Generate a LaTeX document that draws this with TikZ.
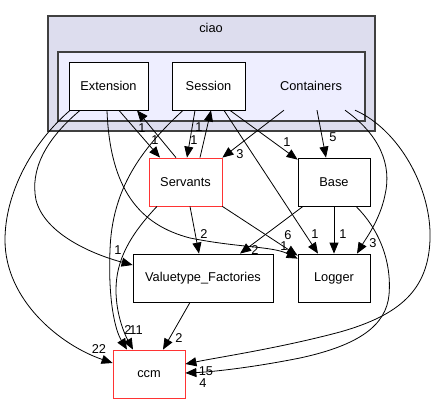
\documentclass[tikz,border=0pt]{standalone}
\usepackage{fontspec}
\setmainfont{Liberation Sans}
\usetikzlibrary{arrows.meta, calc}
\definecolor{ciaofill}{HTML}{DDDDEE}
\definecolor{contfill}{HTML}{EEEEFF}
\definecolor{framegray}{HTML}{404040}
\definecolor{dirred}{HTML}{FF3333}
\tikzset{
  dirbox/.style={draw=black, fill=white, line width=0.8pt, minimum height=48pt, inner sep=0pt, font=\fontsize{12.8}{15}\selectfont},
  redbox/.style={dirbox, draw=dirred},
  clusterbox/.style={draw=framegray, line width=1.2pt, inner sep=0pt},
  dep/.style={-{Triangle[length=11pt,width=9pt]}, line width=0.8pt},
  cnt/.style={inner sep=0pt, font=\fontsize{12.8}{15}\selectfont}
}
\begin{document}
\begin{tikzpicture}[x=1pt, y=-1pt]
    \useasboundingbox (0,0) rectangle (437,404);

    % clusters
    \node[clusterbox, fill=ciaofill, minimum width=327pt, minimum height=115pt] (ciao) at (211.5,73.5) {};
    \node[cnt] (ciaolbl) at (211,28) {ciao};
    \node[clusterbox, fill=contfill, minimum width=307pt, minimum height=69pt] (contframe) at (211.5,86.5) {};
    \node[cnt, minimum width=80pt, minimum height=48pt] (Containers) at (311,86) {Containers};

    % directories
    \node[dirbox, minimum width=79pt] (Extension) at (108.5,86) {Extension};
    \node[dirbox, minimum width=73pt] (Session) at (208.5,86) {Session};
    \node[redbox, minimum width=73pt] (Servants) at (185.5,182) {Servants};
    \node[dirbox, minimum width=72pt] (Base) at (334,182) {Base};
    \node[dirbox, minimum width=140pt] (VF) at (203,278) {Valuetype\_Factories};
    \node[dirbox, minimum width=72pt] (Logger) at (334,278) {Logger};
    \node[redbox, minimum width=72pt] (ccm) at (149,374) {ccm};

    % Extension
    \draw[dep] ([xshift=-38.5]Extension.south) .. controls (30,145) and (5,195) .. (5,240)
        .. controls (5,300) and (60,345) .. ([yshift=11]ccm.west);
    \draw[dep] ([xshift=-28.5]Extension.south) .. controls (45,140) and (30,170) .. (36,200)
        .. controls (45,235) and (95,255) .. ([yshift=13]VF.west);
    \draw[dep] ([xshift=-1.5]Extension.south) .. controls (110,190) and (140,225) .. (190,238)
        .. controls (240,248) and (272,246) .. ([yshift=-5]Logger.north west);
    \draw[dep] ([xshift=10.5]Extension.south) -- ([xshift=-25.5]Servants.north);

    % Session
    \draw[dep] ([xshift=-13.5]Session.south) -- ([xshift=1.5]Servants.north);
    \draw[dep] ([xshift=-25.5]Session.south) .. controls (140,150) and (112,190) .. (110,250)
        .. controls (108,300) and (115,330) .. ([xshift=-22]ccm.north);
    \draw[dep] ([xshift=15.5]Session.south) -- ([xshift=-16]Logger.north);
    \draw[dep] ([xshift=21.5]Session.south) -- ([yshift=-2]Base.north west);

    % Servants
    \draw[dep] ([xshift=-9.5]Servants.north) -- ([xshift=28.5]Extension.south);
    \draw[dep] ([xshift=14.5]Servants.north) -- ([xshift=2.5]Session.south);
    \draw[dep] ([xshift=-28.5]Servants.south) .. controls (130,235) and (116,260) .. (116,290)
        .. controls (116,315) and (125,335) .. ([xshift=-16]ccm.north);
    \draw[dep] ([xshift=4.5]Servants.south) -- ([xshift=-4]VF.north);
    \draw[dep] (Servants.south east) -- ([yshift=-2]Logger.north west);

    % Containers
    \draw[dep] ([xshift=-27]Containers.south) -- (Servants.north east);
    \draw[dep] ([xshift=6]Containers.south) -- ([xshift=-8]Base.north);
    \draw[dep] ([xshift=34]Containers.south) .. controls (380,135) and (392,165) .. (385,195)
        .. controls (380,220) and (365,240) .. ([xshift=23]Logger.north);
    \draw[dep] ([xshift=44]Containers.south) .. controls (400,130) and (432,190) .. (430,240)
        .. controls (428,290) and (400,315) .. (340,332)
        .. controls (280,348) and (220,357) .. ([yshift=10]ccm.east);

    % Base, Valuetype_Factories
    \draw[dep] (Base.south) -- (Logger.north);
    \draw[dep] ([xshift=-31]Base.south) -- ([xshift=37]VF.north);
    \draw[dep] ([xshift=22]Base.south) .. controls (378,228) and (392,260) .. (389,295)
        .. controls (386,325) and (360,345) .. (300,358)
        .. controls (250,368) and (210,372) .. ([yshift=1]ccm.east);
    \draw[dep] ([xshift=-13]VF.south) -- ([xshift=14]ccm.north);

    % counts
    \node[cnt] (nExtCcm) at (99,349) {22};
    \node[cnt] (nExtVF) at (118,250) {1};
    \node[cnt] (nExtLog) at (284,246) {1};
    \node[cnt] (nSerLog) at (288,235) {6};
    \node[cnt] (nSerExt) at (142,128) {1};
    \node[cnt] (nExtSer) at (155,140) {1};
    \node[cnt] (nSesSer) at (194,140) {1};
    \node[cnt] (nSerSes) at (199,127) {1};
    \node[cnt] (nSesCcm) at (128,330) {2};
    \node[cnt] (nSerCcm) at (136,330) {11};
    \node[cnt] (nSesLog) at (315,234) {1};
    \node[cnt] (nSesBase) at (287,142) {1};
    \node[cnt] (nConSer) at (240,154) {3};
    \node[cnt] (nConBase) at (333,137) {5};
    \node[cnt] (nConLog) at (373,243) {3};
    \node[cnt] (nConCcm) at (206,371) {15};
    \node[cnt] (nBaseCcm) at (203,383) {4};
    \node[cnt] (nBaseLog) at (343,234) {1};
    \node[cnt] (nBaseVF) at (255,250) {2};
    \node[cnt] (nSerVF) at (204,234) {2};
    \node[cnt] (nVFCcm) at (179,338) {2};

\end{tikzpicture}
\end{document}
